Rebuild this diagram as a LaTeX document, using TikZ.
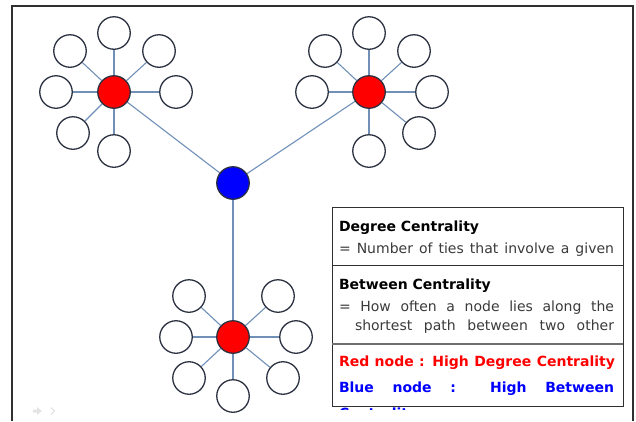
\documentclass[tikz,border=0pt]{standalone}
\usepackage{fontspec}
\setmainfont{DejaVu Sans}
\usetikzlibrary{backgrounds}
\definecolor{edgec}{HTML}{7090B8}
\definecolor{ringc}{HTML}{2B3140}
\definecolor{framec}{HTML}{303030}
\definecolor{bodyc}{HTML}{3A3A3A}
\definecolor{navc}{HTML}{E4E4E4}
\tikzset{
  leaf/.style={circle, draw=ringc, line width=1.3pt, fill=white, minimum size=32.5pt, inner sep=0pt},
  hubred/.style={leaf, fill=red, draw=ringc},
  hubblue/.style={leaf, fill=blue, draw=ringc},
  tie/.style={draw=edgec, line width=1.1pt},
  txt/.style={anchor=base west, inner sep=0pt, outer sep=0pt},
  head/.style={txt, font=\fontsize{14}{16}\selectfont\bfseries},
  body/.style={txt, text=bodyc, font=\fontsize{14}{16}\selectfont},
  redt/.style={txt, text=red, font=\fontsize{14}{16}\selectfont\bfseries},
  bluet/.style={txt, text=blue, font=\fontsize{14}{16}\selectfont\bfseries},
  boxline/.style={draw=framec, line width=1pt},
}
\begin{document}
\begin{tikzpicture}[x=1pt,y=-1pt]
\useasboundingbox (0,0) rectangle (636,421);
% outer frame (open at bottom)
\draw[framec, line width=1.6pt] (12,421) -- (12,6) -- (633,6) -- (633,421);

% hubs
\node[hubred]  (A) at (114,92) {};
\node[hubred]  (B) at (369,92) {};
\node[hubblue] (C) at (233,183) {};
\node[hubred]  (D) at (233,337) {};

% satellites of A
\foreach \n/\x/\y in {1/114/33, 2/70/51, 3/159/51, 4/56/92, 5/176/92, 6/73/133, 7/114/151}
  \node[leaf] (a\n) at (\x,\y) {};
% satellites of B
\foreach \n/\x/\y in {1/369/33, 2/325/51, 3/414/51, 4/312/92, 5/432/92, 6/419/133, 7/369/151}
  \node[leaf] (b\n) at (\x,\y) {};
% satellites of D
\foreach \n/\x/\y in {1/189/296, 2/278/296, 3/176/337, 4/296/337, 5/189/378, 6/283/378, 7/233/396}
  \node[leaf] (d\n) at (\x,\y) {};

\begin{scope}[on background layer]
  \foreach \n in {1,...,7} {
    \draw[tie] (A) -- (a\n);
    \draw[tie] (B) -- (b\n);
    \draw[tie] (D) -- (d\n);
  }
  \draw[tie] (C) -- (A);
  \draw[tie] (C) -- (B);
  \draw[tie] (C) -- (D);
\end{scope}

% legend text
\node[head] (h1) at (339,231) {Degree Centrality};
\node[body] (l1) at (339,253) {\makebox[275pt][s]{= Number of ties that involve a given}};
\node[head] (h2) at (339,289) {Between Centrality};
\node[body] (l2) at (339,311) {\makebox[275pt][s]{= How often a node lies along the}};
\node[body] (l3) at (355,330) {\makebox[259pt][s]{shortest path between two other}};
\node[redt] (r1) at (339,366) {\makebox[276pt][s]{Red node : High Degree Centrality}};
\node[bluet] (u1) at (339,392) {\makebox[275pt][s]{Blue node : High Between}};
\begin{scope}
  \clip (332,400) rectangle (623,409);
  \node[bluet] (u2) at (339,418) {Centrality};
\end{scope}

% legend box
\draw[boxline] (332,207) rectangle (623,406);
\draw[boxline] (332,265) -- (623,265);
\draw[draw=framec!70, line width=1.6pt] (332,344) -- (623,344);

% faint slide navigation marks
\fill[navc] (33,409.5) rectangle (37,412.5) (37,407) -- (42,411) -- (37,415) -- cycle;
\draw[navc, line width=1.2pt] (51,407.5) -- (54.5,411) -- (51,414.5);
\end{tikzpicture}
\end{document}
